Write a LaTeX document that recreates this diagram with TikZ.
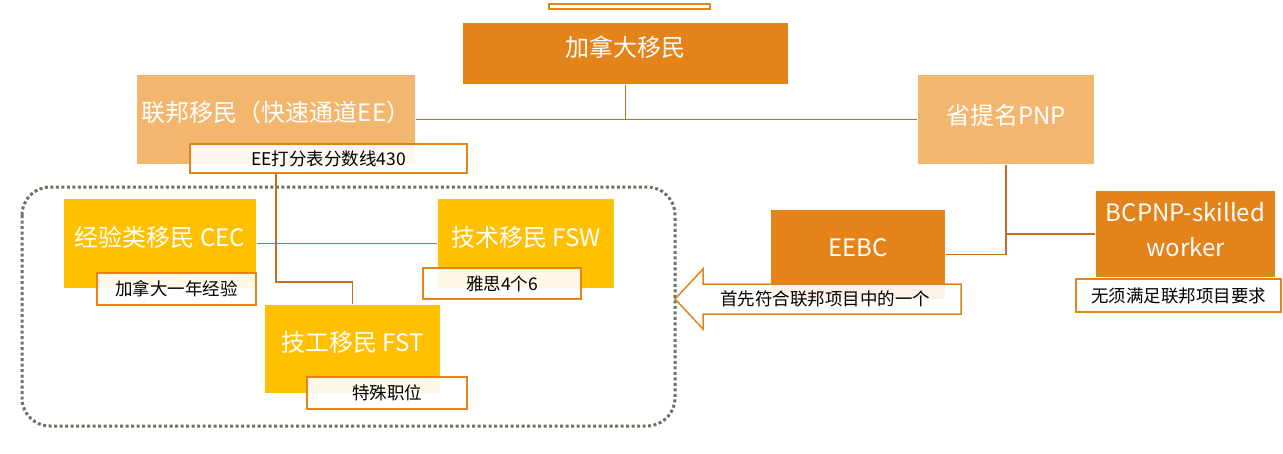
\documentclass[tikz,border=0pt]{standalone}
\usepackage{fontspec}
\setmainfont{Noto Sans CJK SC}
\usetikzlibrary{positioning}
\definecolor{darkorange}{HTML}{E3831A}
\definecolor{lightorange}{HTML}{F2B66E}
\definecolor{gold}{HTML}{FFC000}
\definecolor{linkbrown}{HTML}{C46F1F}
\definecolor{dotgray}{HTML}{707064}

\begin{document}
\begin{tikzpicture}[x=1pt, y=-1pt, line width=1.5pt]
        \tikzstyle{box} = [rectangle, text=white, inner sep=0pt, font=\fontsize{24}{35}\selectfont, text height=16pt, text depth=11pt]
        \tikzstyle{main} = [box, fill=darkorange]
        \tikzstyle{federal} = [box, fill=lightorange]
        \tikzstyle{program} = [box, fill=gold]
        \tikzstyle{note} = [rectangle, draw=darkorange, fill=white, fill opacity=0.9, text opacity=1, text=black, inner sep=0pt, font=\fontsize{17.5}{20}\selectfont]
        \tikzstyle{link} = [draw=linkbrown]
        \tikzstyle{group} = [draw=dotgray, line width=3pt, dash pattern=on 3pt off 2.5pt, rounded corners=28pt]

        \useasboundingbox (0,0) rectangle (1283,453);

        \node[note, minimum width=161, minimum height=5](topbar) at (629.5,6.5) {};
        \node[main, minimum width=325, minimum height=61, text depth=11pt](canada) at (625.5,53.5) {加拿大移民};
        \node[federal, minimum width=278, minimum height=89, text depth=13pt](fed) at (276,119.5) {联邦移民（快速通道EE）};
        \node[federal, minimum width=176, minimum height=89, text depth=7pt](pnp) at (1006,119.5) {省提名PNP};

        \draw[group] (22,187) rectangle (675,426);

        \node[program, minimum width=192, minimum height=89](cec) at (160,243.5) {经验类移民 CEC};
        \node[program, minimum width=176, minimum height=89](fsw) at (526,243.5) {技术移民 FSW};
        \node[program, minimum width=175, minimum height=88, text depth=12pt](fst) at (352.5,349) {技工移民 FST};
        \node[main, minimum width=174, minimum height=89, text depth=13pt](eebc) at (858,254.5) {EEBC};
        \node[main, minimum width=179, minimum height=86, align=center, text height=51pt, text depth=7pt](bcpnp) at (1185.5,234) {BCPNP-skilled\\worker};

        \node[note, minimum width=277, minimum height=29](eenote) at (328.5,158.5) {EE打分表分数线430};
        \node[note, minimum width=159, minimum height=32](cecnote) at (176.5,289) {加拿大一年经验};
        \node[note, minimum width=158, minimum height=31](fswnote) at (502,283.5) {雅思4个6};
        \node[note, minimum width=160, minimum height=32](fstnote) at (387,393) {特殊职位};
        \node[note, minimum width=205, minimum height=33](bcnote) at (1178.5,295.5) {无须满足联邦项目要求};

        \path[note] (961,284) -- (703,284) -- (703,269) -- (675,299) -- (703,329) -- (703,314) -- (961,314) -- cycle;
        \node[font=\fontsize{17.5}{20}\selectfont](eebcnote) at (825,299) {首先符合联邦项目中的一个};

        \coordinate (bend) at (276,282);
        \draw[link] (canada.south) -- (canada.south |- fed.east);
        \draw[link] (fed.east) -- (pnp.west);
        \draw[link] (eenote.south -| bend) -- (bend) -| (fst.north);
        \draw[link] (cec.east) -- (fsw.west);
        \draw[link] (pnp.south) |- (eebc.east);
        \draw[link] (bcpnp.west) -- (bcpnp.west -| pnp.south);
\end{tikzpicture}
\end{document}
